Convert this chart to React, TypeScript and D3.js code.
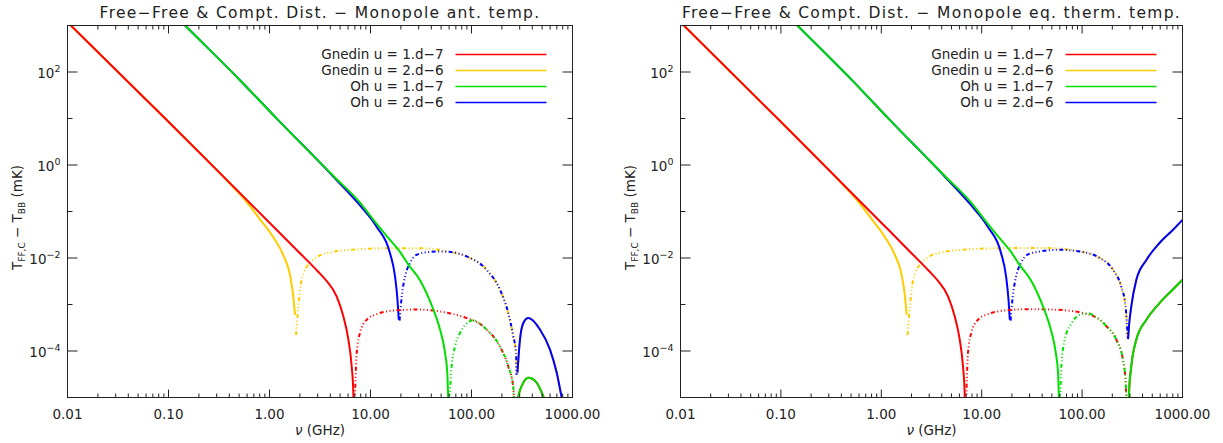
import React from "react";
import * as d3 from "d3";

type Pt = [number, number];

// frequency (GHz), signed T_FF,C - T_BB (mK); negative parts are drawn dash-dot
const gnedin1Ant: Pt[] = [
  [0.01, 1180], [0.096, 9.25], [1, 0.0575], [2, 0.0127], [3, 5.2e-3], [3.68, 3.2e-3],
  [4.62, 1.5e-3], [5.38, 5.6e-4], [6.03, 1.8e-4], [6.51, 4.7e-5], [6.76, 1.3e-5], [6.84, 3e-6],
  [6.92, -3e-6], [7.3, -9e-5], [7.87, -2.45e-4], [9.17, -4.7e-4], [11.5, -6.2e-4], [14.5, -7.1e-4],
  [20, -7.6e-4], [28.6, -7.8e-4], [48.8, -7.1e-4], [89.6, -5.1e-4], [120, -3.9e-4], [141, -2.9e-4],
  [191, -1.26e-4], [231, -4.7e-5], [259, -1.7e-5], [268, -3e-6],
  [280, 2e-6], [290, 1e-5], [326, 2.07e-5], [366, 2.65e-5], [443, 2.07e-5], [513, 1.07e-5],
  [600, 4e-6], [700, 1.3e-6],
];
const gnedin2Ant: Pt[] = [
  [0.01, 1180], [0.096, 9.25], [0.4, 0.41], [0.594, 0.16], [0.805, 0.068], [1.09, 0.028],
  [1.37, 0.0115], [1.6, 4.2e-3], [1.72, 1.5e-3], [1.79, 6e-4],
  [1.83, -2.2e-4], [1.93, -9.1e-4], [2.08, -3.4e-3], [2.51, -7.8e-3], [3.68, -0.0127], [7.87, -0.0155],
  [16.8, -0.0163], [30, -0.0163], [48.8, -0.0148], [60, -0.0136], [89.6, -0.0108], [141, -5.6e-3],
  [191, -2.1e-3], [231, -6.6e-4], [259, -2.1e-4], [276, -9.1e-5], [279, -3.1e-5],
  [285, 3.4e-5], [302, 1.76e-4], [326, 4e-4], [366, 5.1e-4], [476, 2.9e-4], [599, 1.07e-4],
  [698, 3.4e-5], [782, 1e-5], [900, 2.5e-6],
];
const oh1Ant: Pt[] = [
  [0.12, 1530], [0.146, 1000], [0.51, 66.7], [1.22, 9.25], [4.3, 0.58], [7.87, 0.155], [10.7, 0.066],
  [15, 0.027], [19.6, 0.0135], [23.7, 7.2e-3], [31, 3.3e-3], [41.9, 7.8e-4], [48.8, 2.9e-4],
  [54.7, 9.1e-5], [57.6, 3.4e-5], [58.9, 8e-6],
  [60.5, -8e-6], [63.6, -4.7e-5], [68.7, -1.26e-4], [77, -2.45e-4], [96.6, -4.4e-4], [104, -4.6e-4],
  [120, -3.9e-4], [141, -2.9e-4], [191, -1.26e-4], [231, -4.7e-5], [259, -1.7e-5], [268, -3e-6],
  [280, 2e-6], [290, 1e-5], [326, 2.07e-5], [366, 2.65e-5], [443, 2.07e-5], [513, 1.07e-5],
  [600, 4e-6], [700, 1.3e-6],
];
const oh2Ant: Pt[] = [
  [0.12, 1530], [0.146, 1000], [0.51, 66.7], [1.22, 9.25], [4.3, 0.56], [7.87, 0.135], [11.5, 0.047],
  [15.6, 0.0127], [17.5, 4e-3], [18.5, 1.26e-3], [19.05, 4.7e-4],
  [19.4, -4.5e-4], [20.4, -1.5e-3], [22, -4e-3], [24.6, -7.8e-3], [28.6, -0.0117], [38, -0.0135],
  [48.8, -0.0138], [60, -0.0136], [89.6, -0.0108], [141, -5.6e-3], [191, -2.1e-3], [231, -6.6e-4],
  [259, -2.1e-4], [276, -9.1e-5], [279, -3.1e-5],
  [285, 3.4e-5], [302, 1.76e-4], [326, 4e-4], [366, 5.1e-4], [476, 2.9e-4], [599, 1.07e-4],
  [698, 3.4e-5], [782, 1e-5], [900, 2.5e-6],
];

const gnedin1Th: Pt[] = [
  [0.01, 1180], [0.096, 9.25], [1, 0.0575], [2, 0.0127], [3, 5.2e-3], [3.68, 3.2e-3],
  [4.62, 1.5e-3], [5.38, 5.6e-4], [6.03, 1.8e-4], [6.51, 4.7e-5], [6.76, 1.3e-5], [6.84, 3e-6],
  [6.92, -3e-6], [7.3, -9e-5], [7.87, -2.45e-4], [9.17, -4.7e-4], [11.5, -6.2e-4], [14.5, -7.1e-4],
  [20, -7.7e-4], [28.6, -7.9e-4], [48.8, -7.8e-4], [81, -7.2e-4], [115, -6.1e-4], [140, -5.2e-4],
  [175, -3.4e-4], [219, -1.76e-4], [255, -6.6e-5], [272, -2e-5], [281, -3e-6],
  [287, 3e-6], [293, 1.2e-5], [309, 4.7e-5], [347, 1.76e-4], [437, 4.7e-4], [590, 1.07e-3],
  [801, 2.1e-3], [1000, 3.4e-3],
];
const gnedin2Th: Pt[] = [
  [0.01, 1180], [0.096, 9.25], [0.4, 0.41], [0.594, 0.16], [0.805, 0.068], [1.09, 0.028],
  [1.37, 0.0115], [1.6, 4.2e-3], [1.72, 1.5e-3], [1.79, 6e-4],
  [1.83, -2.2e-4], [1.93, -9.1e-4], [2.08, -3.4e-3], [2.51, -7.8e-3], [3.68, -0.0127], [7.87, -0.0155],
  [16.8, -0.0163], [30, -0.0165], [48.8, -0.0163], [70, -0.0155], [95, -0.0138], [150, -0.01],
  [203, -5.6e-3], [245, -2.45e-3], [271, -9.1e-4], [285, -1.76e-4],
  [287, 1.8e-4], [293, 3.4e-4], [309, 9.1e-4], [347, 3.4e-3], [437, 9.1e-3], [590, 0.021],
  [801, 0.04], [1000, 0.066],
];
const oh1Th: Pt[] = [
  [0.12, 1530], [0.146, 1000], [0.51, 66.7], [1.22, 9.25], [4.3, 0.58], [7.87, 0.155], [10.7, 0.066],
  [15, 0.027], [19.6, 0.0135], [23.7, 7.2e-3], [31, 3.3e-3], [41.9, 7.8e-4], [48.8, 2.9e-4],
  [54.7, 9.1e-5], [57.6, 3.4e-5], [58.9, 8e-6],
  [60.5, -8e-6], [62.2, -4.7e-5], [67.1, -1.76e-4], [78.3, -3.9e-4], [94.6, -6e-4], [115, -6.4e-4],
  [140, -5.2e-4], [175, -3.4e-4], [219, -1.76e-4], [255, -6.6e-5], [272, -2e-5], [281, -3e-6],
  [287, 3e-6], [293, 1.2e-5], [309, 4.7e-5], [347, 1.76e-4], [437, 4.7e-4], [590, 1.07e-3],
  [801, 2.1e-3], [1000, 3.4e-3],
];
const oh2Th: Pt[] = [
  [0.12, 1530], [0.146, 1000], [0.51, 66.7], [1.22, 9.25], [4.3, 0.56], [7.87, 0.135], [11.5, 0.047],
  [15.6, 0.0127], [17.5, 4e-3], [18.5, 1.26e-3], [19.05, 4.7e-4],
  [19.4, -4.5e-4], [20.4, -1.5e-3], [22, -4e-3], [24.6, -7.8e-3], [28.6, -0.0118], [37.8, -0.0138],
  [59.8, -0.015], [95, -0.0138], [150, -0.01], [203, -5.6e-3], [245, -2.45e-3], [271, -9.1e-4],
  [285, -1.76e-4],
  [287, 1.8e-4], [293, 3.4e-4], [309, 9.1e-4], [347, 3.4e-3], [437, 9.1e-3], [590, 0.021],
  [801, 0.04], [1000, 0.066],
];

const legendLabels = ["Gnedin u = 1.d\u22127", "Gnedin u = 2.d\u22126", "Oh u = 1.d\u22127", "Oh u = 2.d\u22126"];
const seriesColors = ["#ff0000", "#ffcc00", "#00e000", "#0000ff"];
// which series is painted first: the u = 2.d-6 curves sit underneath
const drawOrder = [1, 3, 0, 2];
const xMajor = [0.01, 0.1, 1, 10, 100, 1000];
const yExps = [-5, -4, -3, -2, -1, 0, 1, 2, 3];
const yLabelExps = [-4, -2, 0, 2];
const titles = [
  "Free\u2212Free & Compt. Dist. \u2212 Monopole ant. temp.",
  "Free\u2212Free & Compt. Dist. \u2212 Monopole eq. therm. temp.",
];

const W = 1223;
const H = 443;
const TOP = 25.5;
const BOTTOM = 397.5;
const FONT = "DejaVu Sans";
const INK = "#222";
const DASH = "4,2.5,1,2.5,1,2.5,1,2.5";

// cut a series wherever the sign flips, so each run gets its own line style
const splitRuns = (pts: Pt[]) => {
  const runs: Pt[][] = [];
  pts.forEach((p, i) => {
    if (i === 0 || Math.sign(p[1]) !== Math.sign(pts[i - 1][1])) runs.push([]);
    runs[runs.length - 1].push(p);
  });
  return runs;
};

const Panel = ({ title, series, x0, x1, id }: { title: string; series: Pt[][]; x0: number; x1: number; id: string }) => {
  const x = d3.scaleLog().domain([0.01, 1000]).range([x0, x1]);
  const y = d3.scaleLog().domain([1e-5, 1e3]).range([BOTTOM, TOP]);
  const line = d3
    .line<Pt>()
    .x((d) => x(d[0]))
    .y((d) => y(Math.abs(d[1])))
    .curve(d3.curveMonotoneX);
  const xMinor = xMajor.slice(0, -1).flatMap((d) => d3.range(2, 10).map((k) => d * k));
  const fmt = d3.format(".2f");
  const cx = (x0 + x1) / 2;

  return (
    <g fontFamily={FONT} fill={INK}>
      <defs>
        <clipPath id={id}>
          <rect x={x0} y={TOP} width={x1 - x0} height={BOTTOM - TOP} />
        </clipPath>
      </defs>
      <text x={cx} y={18} textAnchor="middle" fontSize={15.5} letterSpacing={1.3}>
        {title}
      </text>

      <g clipPath={`url(#${id})`} fill="none">
        {drawOrder.map((si) =>
          splitRuns(series[si]).map((run, ri) => (
            <path
              key={`${si}-${ri}`}
              d={line(run) || ""}
              stroke={seriesColors[si]}
              strokeWidth={2}
              strokeDasharray={run[0][1] < 0 ? DASH : undefined}
            />
          ))
        )}
      </g>

      {/* frame and ticks */}
      <rect x={x0} y={TOP} width={x1 - x0} height={BOTTOM - TOP} fill="none" stroke={INK} strokeWidth={1} />
      <g stroke={INK} strokeWidth={1}>
        {xMajor.map((d) => (
          <g key={`M${d}`}>
            <line x1={x(d)} x2={x(d)} y1={BOTTOM} y2={BOTTOM - 8} />
            <line x1={x(d)} x2={x(d)} y1={TOP} y2={TOP + 8} />
          </g>
        ))}
        {xMinor.map((d) => (
          <g key={`m${d}`}>
            <line x1={x(d)} x2={x(d)} y1={BOTTOM} y2={BOTTOM - 4} />
            <line x1={x(d)} x2={x(d)} y1={TOP} y2={TOP + 4} />
          </g>
        ))}
        {yExps.map((e) => {
          const len = yLabelExps.includes(e) ? 10 : 5;
          const yy = y(Math.pow(10, e));
          return (
            <g key={`y${e}`}>
              <line x1={x0} x2={x0 + len} y1={yy} y2={yy} />
              <line x1={x1} x2={x1 - len} y1={yy} y2={yy} />
            </g>
          );
        })}
      </g>

      {xMajor.map((d) => (
        <text key={`xl${d}`} x={x(d)} y={418.5} textAnchor="middle" fontSize={13.5}>
          {fmt(d)}
        </text>
      ))}
      {yLabelExps.map((e) => (
        <text key={`yl${e}`} x={x0 - 7} y={y(Math.pow(10, e)) + 5.5} textAnchor="end" fontSize={13.5}>
          10
          <tspan dy={-5.5} fontSize={9.5}>
            {e < 0 ? `\u2212${-e}` : `${e}`}
          </tspan>
        </text>
      ))}

      <text x={cx} y={435} textAnchor="middle" fontSize={13.5}>
        <tspan fontStyle="italic">{"\u03bd"}</tspan> (GHz)
      </text>
      <text
        transform={`translate(${x0 - 46},${(TOP + BOTTOM) / 2 + 6}) rotate(-90)`}
        textAnchor="middle"
        fontSize={13.5}
      >
        T
        <tspan fontSize={9} dy={3}>
          FF,C
        </tspan>
        <tspan dy={-3}>{" \u2212 T"}</tspan>
        <tspan fontSize={9} dy={3}>
          BB
        </tspan>
        <tspan dy={-3}> (mK)</tspan>
      </text>

      {/* legend */}
      {legendLabels.map((lab, i) => {
        const ly = TOP + 29 + i * 16;
        return (
          <g key={lab}>
            <text x={x1 - 129} y={ly + 4} textAnchor="end" fontSize={13.5}>
              {lab}
            </text>
            <line x1={x1 - 117} x2={x1 - 26} y1={ly} y2={ly} stroke={seriesColors[i]} strokeWidth={1.4} />
          </g>
        );
      })}
    </g>
  );
};

export default function App() {
  return (
    <div style={{ position: "absolute", left: 0, top: 0 }}>
      <svg width={W} height={H} style={{ display: "block", background: "#fff" }}>
        <Panel id="clipAnt" title={titles[0]} series={[gnedin1Ant, gnedin2Ant, oh1Ant, oh2Ant]} x0={67.5} x1={572.5} />
        <Panel id="clipTh" title={titles[1]} series={[gnedin1Th, gnedin2Th, oh1Th, oh2Th]} x0={680.5} x1={1182.5} />
      </svg>
    </div>
  );
}
